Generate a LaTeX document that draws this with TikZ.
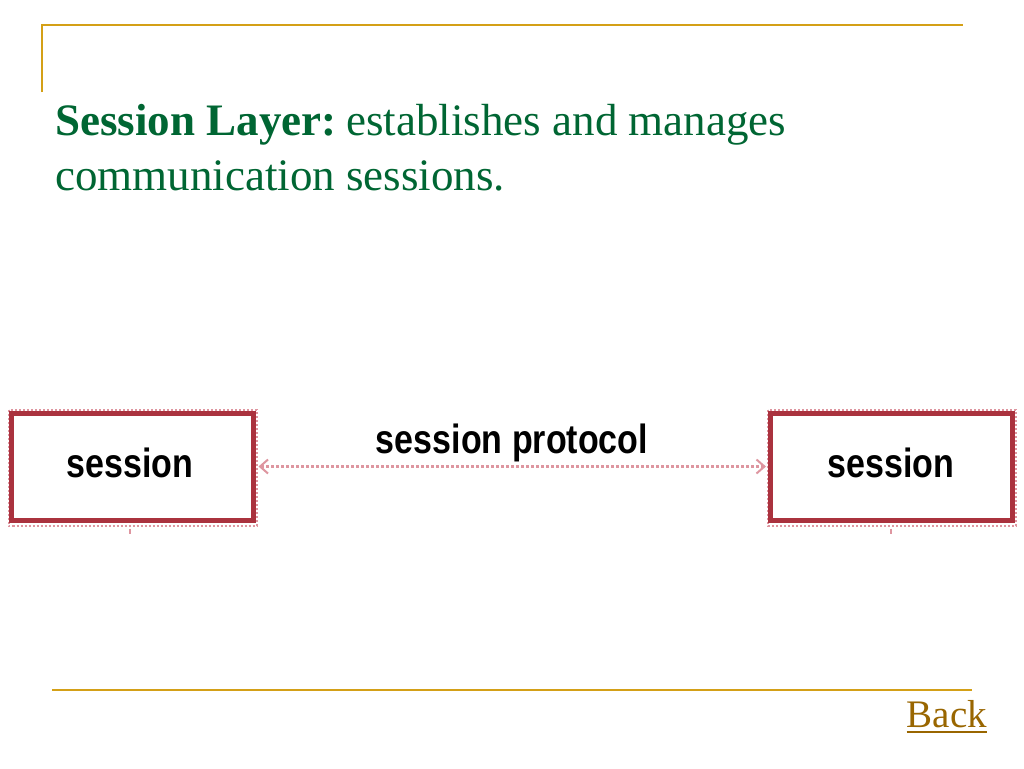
\documentclass[tikz,border=0pt]{standalone}
\usepackage{fontspec}
\setmainfont{Liberation Serif}
\newfontfamily\arialfont{Liberation Sans}
\usetikzlibrary{arrows.meta}
\definecolor{titlegreen}{RGB}{0,102,51}
\definecolor{gold}{RGB}{212,160,23}
\definecolor{backgold}{RGB}{153,102,0}
\definecolor{boxred}{RGB}{170,50,62}
\definecolor{boxpink}{RGB}{222,150,160}
\tikzset{
  sessbox/.style={draw=boxred, line width=5pt, fill=white, minimum width=242pt, minimum height=107pt, inner sep=0pt},
  sessouter/.style={draw=boxpink, line width=2pt, dotted},
  sesslabel/.style={font=\arialfont\bfseries\fontsize{34}{40}\selectfont, yscale=1.2, inner sep=0pt, anchor=base},
  rule/.style={draw=gold, line width=1.5pt},
  protoarrow/.style={draw=boxpink, line width=3pt, dotted, {Straight Barb[length=8pt,width=14pt,line width=2pt]}-{Straight Barb[length=8pt,width=14pt,line width=2pt]}},
}
\begin{document}
\begin{tikzpicture}[x=1pt,y=-1pt]
\useasboundingbox[fill=white] (0,0) rectangle (1024,768);
% frame rules
\draw[rule] (42,92) -- (42,25) -- (963,25);
\draw[rule] (52,690) -- (972,690);
% title
\node[anchor=base west, inner sep=0pt, text=titlegreen, font=\fontsize{45}{54}\selectfont] (t1) at (55,135) {\textbf{Session Layer:}\hspace{0.22em}establishes and manages};
\node[anchor=base west, inner sep=0pt, text=titlegreen, font=\fontsize{45}{54}\selectfont] (t2) at (55,190) {communication sessions.};
% boxes
\draw[sessouter] (8.5,410) rectangle (256.5,526);
\node[sessbox] (L) at (132,466.5) {};
\draw[sessouter] (768,410) rectangle (1016,526);
\node[sessbox] (R) at (891.5,466.5) {};
\node[sesslabel] (Ltext) at (130,477) {session};
\node[sesslabel] (Rtext) at (891,477) {session};
% ticks below
\coordinate (Lt) at (130,534);
\coordinate (Rt) at (891,534);
\draw[boxpink, line width=2.5pt] (Lt |- L.south) ++(0,6) -- (Lt);
\draw[boxpink, line width=2.5pt] (Rt |- R.south) ++(0,6) -- (Rt);
% protocol arrow
\draw[protoarrow] ([xshift=3pt]L.east) -- ([xshift=-2pt]R.west);
\node[sesslabel] (P) at (512,453) {session protocol};
% back link
\node[anchor=base, inner sep=0pt, text=backgold, font=\fontsize{39}{45}\selectfont] (back) at (947,727) {Back};
\draw[backgold, line width=2pt] (back.base west) ++(0,5) -- ([yshift=-5pt]back.base east);
\end{tikzpicture}
\end{document}
